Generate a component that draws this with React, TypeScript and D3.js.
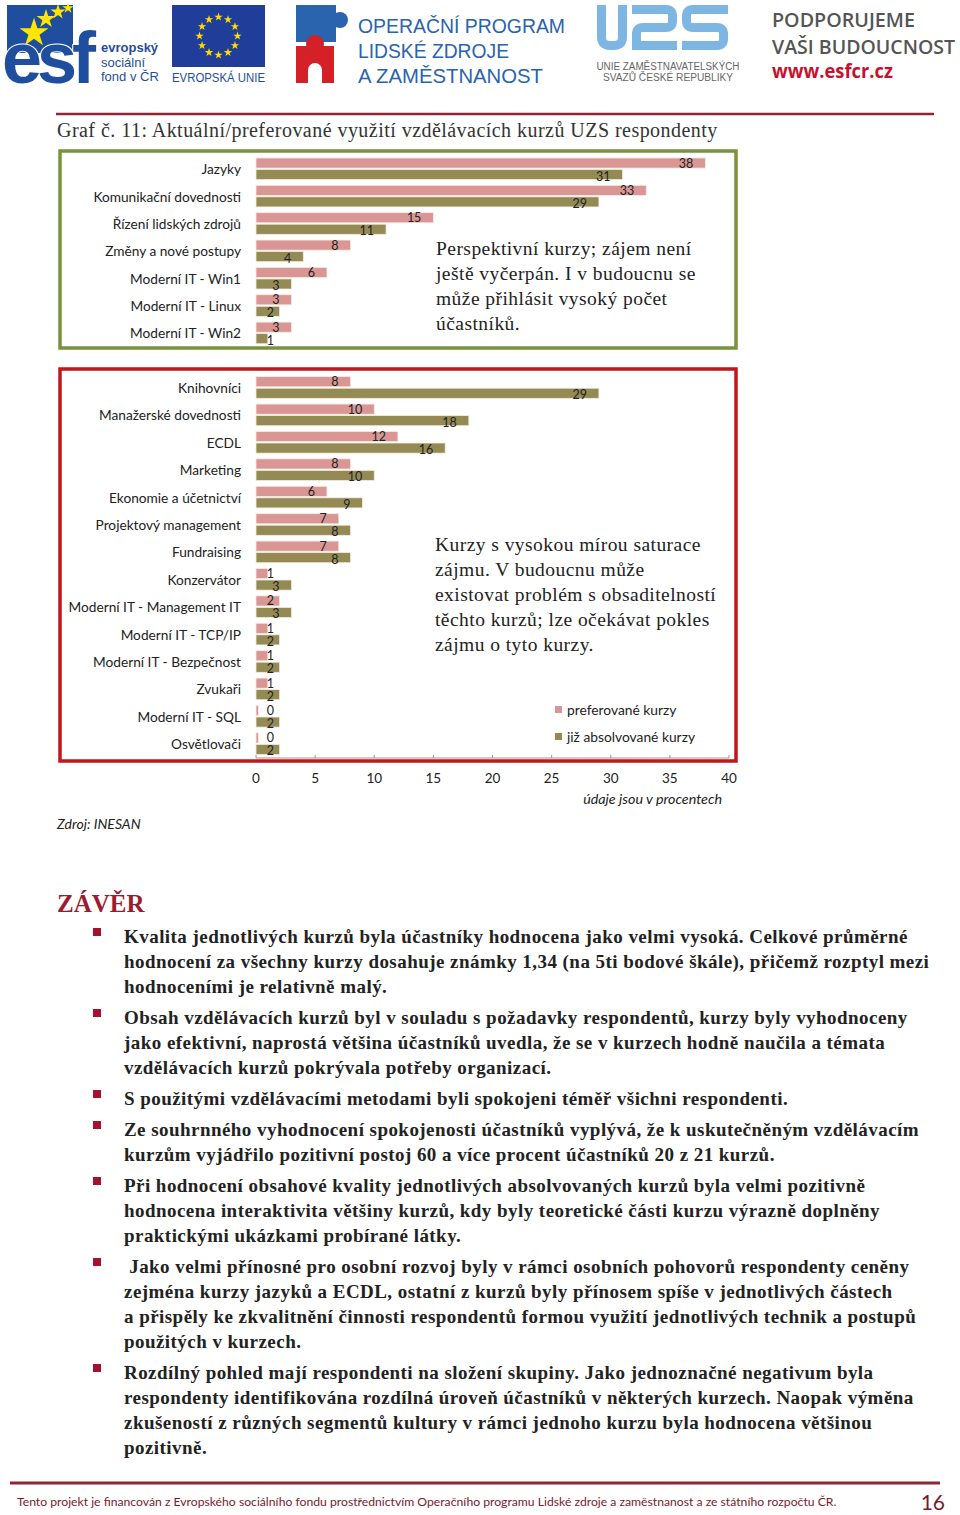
import React from "react";
import * as d3 from "d3";

const topCats = [
  "Jazyky",
  "Komunikační dovednosti",
  "Řízení lidských zdrojů",
  "Změny a nové postupy",
  "Moderní IT - Win1",
  "Moderní IT - Linux",
  "Moderní IT - Win2",
];
const topPreferred = [38, 33, 15, 8, 6, 3, 3];
const topCompleted = [31, 29, 11, 4, 3, 2, 1];

const bottomCats = [
  "Knihovníci",
  "Manažerské dovednosti",
  "ECDL",
  "Marketing",
  "Ekonomie a účetnictví",
  "Projektový management",
  "Fundraising",
  "Konzervátor",
  "Moderní IT - Management IT",
  "Moderní IT - TCP/IP",
  "Moderní IT - Bezpečnost",
  "Zvukaři",
  "Moderní IT - SQL",
  "Osvětlovači",
];
const bottomPreferred = [8, 10, 12, 8, 6, 7, 7, 1, 2, 1, 1, 1, 0.2, 0.2];
const bottomCompleted = [29, 18, 16, 10, 9, 8, 8, 3, 3, 2, 2, 2, 2, 2];

const xTicks = [0, 5, 10, 15, 20, 25, 30, 35, 40];
const seriesNames = ["preferované kurzy", "již absolvované kurzy"];

const topNote = [
  "Perspektivní kurzy; zájem není",
  "ještě vyčerpán. I v budoucnu se",
  "může přihlásit vysoký počet",
  "účastníků.",
];
const bottomNote = [
  "Kurzy s vysokou mírou saturace",
  "zájmu. V budoucnu může",
  "existovat problém s obsaditelností",
  "těchto kurzů; lze očekávat pokles",
  "zájmu o tyto kurzy.",
];

const paragraphs = [
  [
    "Kvalita jednotlivých kurzů byla účastníky hodnocena jako velmi vysoká. Celkové průměrné",
    "hodnocení za všechny kurzy dosahuje známky 1,34 (na 5ti bodové škále), přičemž rozptyl mezi",
    "hodnoceními je relativně malý.",
  ],
  [
    "Obsah vzdělávacích kurzů byl v souladu s požadavky respondentů, kurzy byly vyhodnoceny",
    "jako efektivní, naprostá většina účastníků uvedla, že se v kurzech hodně naučila a témata",
    "vzdělávacích kurzů pokrývala potřeby organizací.",
  ],
  ["S použitými vzdělávacími metodami byli spokojeni téměř všichni respondenti."],
  [
    "Ze souhrnného vyhodnocení spokojenosti účastníků vyplývá, že k uskutečněným vzdělávacím",
    "kurzům vyjádřilo pozitivní postoj 60 a více procent účastníků 20 z 21 kurzů.",
  ],
  [
    "Při hodnocení obsahové kvality jednotlivých absolvovaných kurzů byla velmi pozitivně",
    "hodnocena interaktivita většiny kurzů, kdy byly teoretické části kurzu výrazně doplněny",
    "praktickými ukázkami probírané látky.",
  ],
  [
    "\u00a0Jako velmi přínosné pro osobní rozvoj byly v rámci osobních pohovorů respondenty ceněny",
    "zejména kurzy jazyků a ECDL, ostatní z kurzů byly přínosem spíše v jednotlivých částech",
    "a přispěly ke zkvalitnění činnosti respondentů formou využití jednotlivých technik a postupů",
    "použitých v kurzech.",
  ],
  [
    "Rozdílný pohled mají respondenti na složení skupiny. Jako jednoznačné negativum byla",
    "respondenty identifikována rozdílná úroveň účastníků v některých kurzech. Naopak výměna",
    "zkušeností z různých segmentů kultury v rámci jednoho kurzu byla hodnocena většinou",
    "pozitivně.",
  ],
];

const PINK = "#D99694";
const OLIVE = "#948A54";
const DARKRED = "#8E2436";
const SANS = "Lato, 'Liberation Sans', sans-serif";
const SERIF = "'Liberation Serif', 'DejaVu Serif', serif";

const x = d3.scaleLinear().domain([0, 40]).range([256, 729]);
const fmt = d3.format(".0f");

function Panel({ cats, pref, comp, range }: { cats: string[]; pref: number[]; comp: number[]; range: [number, number] }) {
  const y = d3.scaleBand<string>().domain(cats).range(range).paddingInner(0.21).paddingOuter(0.105);
  const bw = y.bandwidth();
  const h = bw / 2 - 0.7;
  return (
    <g>
      {cats.map((c, i) => {
        const y0 = y(c)!;
        const y1 = y0 + bw / 2 + 0.7;
        return (
          <g key={c}>
            <text x={241} y={y0 + bw / 2} textAnchor="end" dominantBaseline="central" fontFamily={SANS} fontSize={13.7} fill="#222">
              {c}
            </text>
            <rect x={x(0)} y={y0} width={x(pref[i]) - x(0)} height={h} fill={PINK} stroke="#f3ebe0" strokeWidth={0.8} />
            <rect x={x(0)} y={y1} width={x(comp[i]) - x(0)} height={h} fill={OLIVE} stroke="#f3ebe0" strokeWidth={0.8} />
            <text x={Math.max(x(pref[i]) - 12, 274)} y={y0 + h / 2} textAnchor="end" dominantBaseline="central" fontFamily={SANS} fontSize={12.5} fill="#222">
              {fmt(pref[i])}
            </text>
            <text x={Math.max(x(comp[i]) - 12, 274)} y={y1 + h / 2 + 1.5} textAnchor="end" dominantBaseline="central" fontFamily={SANS} fontSize={12.5} fill="#222">
              {fmt(comp[i])}
            </text>
          </g>
        );
      })}
    </g>
  );
}

function star(cx: number, cy: number, size: number, fill: string, key: string) {
  const p = d3.symbol(d3.symbolStar, size)();
  return <path key={key} d={p || ""} transform={`translate(${cx},${cy})`} fill={fill} />;
}

const LOGO_SANS = "'Liberation Sans', Arial, sans-serif";

function Header() {
  const euStars = d3.range(12).map((i) => {
    const a = (i / 12) * Math.PI * 2;
    return star(218.5 + 19 * Math.sin(a), 36 - 19 * Math.cos(a), 22, "#FFDD00", "eu" + i);
  });
  return (
    <g>
      {/* ESF */}
      <rect x={7} y={5} width={66} height={48} fill="#1F4E9E" />
      {star(34, 33, 260, "#FFE600", "s1")}
      {star(46, 19, 110, "#FFE600", "s2")}
      {star(58, 12, 70, "#FFE600", "s3")}
      {star(68, 8, 40, "#FFE600", "s4")}
      <text x={2} y={83} fontFamily={LOGO_SANS} fontWeight="bold" fontSize={72} fill="#1F4E9E" stroke="#fff" strokeWidth={2} paintOrder="stroke" letterSpacing={-5}>
        esf
      </text>
      <text x={101} y={52} fontFamily={LOGO_SANS} fontWeight="bold" fontSize={13} fill="#1F4E9E">evropský</text>
      <text x={101} y={67} fontFamily={LOGO_SANS} fontSize={13} fill="#1F4E9E">sociální</text>
      <text x={101} y={81} fontFamily={LOGO_SANS} fontSize={13} fill="#1F4E9E">fond v ČR</text>
      {/* EU */}
      <rect x={172} y={5} width={93} height={62} fill="#1F3D99" />
      {euStars}
      <text x={172} y={82} fontFamily={LOGO_SANS} fontSize={12} fill="#1F4E9E" textLength={93} lengthAdjust="spacingAndGlyphs">EVROPSKÁ UNIE</text>
      {/* OP LZZ */}
      <rect x={296} y={5} width={40} height={37} fill="#2A63AE" />
      <circle cx={340} cy={20} r={8} fill="#2A63AE" />
      <rect x={296} y={46} width={38} height={37} fill="#D42027" />
      <circle cx={315} cy={44} r={9} fill="#D42027" />
      <circle cx={315} cy={70} r={7} fill="#fff" />
      <rect x={308} y={70} width={14} height={13} fill="#fff" />
      <text x={358} y={33} fontFamily={LOGO_SANS} fontSize={21} fill="#2A63AE" textLength={207} lengthAdjust="spacingAndGlyphs">OPERAČNÍ PROGRAM</text>
      <text x={358} y={58} fontFamily={LOGO_SANS} fontSize={21} fill="#2A63AE" textLength={151} lengthAdjust="spacingAndGlyphs">LIDSKÉ ZDROJE</text>
      <text x={358} y={83} fontFamily={LOGO_SANS} fontSize={21} fill="#2A63AE" textLength={185} lengthAdjust="spacingAndGlyphs">A ZAMĚSTNANOST</text>
      {/* UZS */}
      <g fill="none" stroke="#7DB6E2" strokeWidth={9}>
        <path d="M601.5,5 V37 Q601.5,45.5 610,45.5 H614 Q622.5,45.5 622.5,37 V5" />
        <path d="M632,9.5 H666 Q672.5,9.5 672.5,16 V21 Q672.5,27.5 666,27.5 H643 Q636.5,27.5 636.5,34 V45.5 H677" />
        <path d="M728,9.5 H693 Q686.5,9.5 686.5,16 V21 Q686.5,27.5 693,27.5 H717 Q723.5,27.5 723.5,34 V39 Q723.5,45.5 717,45.5 H682" />
      </g>
      <text x={668} y={70} textAnchor="middle" fontFamily={LOGO_SANS} fontSize={10} fill="#666" textLength={143} lengthAdjust="spacingAndGlyphs">UNIE ZAMĚSTNAVATELSKÝCH</text>
      <text x={668} y={81} textAnchor="middle" fontFamily={LOGO_SANS} fontSize={10} fill="#666" textLength={130} lengthAdjust="spacingAndGlyphs">SVAZŮ ČESKÉ REPUBLIKY</text>
      {/* Podporujeme */}
      <text x={772} y={27} fontFamily="'Open Sans', sans-serif" fontWeight={600} fontSize={19} fill="#555" textLength={143} lengthAdjust="spacingAndGlyphs">PODPORUJEME</text>
      <text x={772} y={54} fontFamily="'Open Sans', sans-serif" fontWeight={600} fontSize={19} fill="#555" textLength={183} lengthAdjust="spacingAndGlyphs">VAŠI BUDOUCNOST</text>
      <text x={772} y={78} fontFamily="'Open Sans', sans-serif" fontWeight={700} fontSize={19} fill="#C8102E" textLength={121} lengthAdjust="spacingAndGlyphs">www.esfcr.cz</text>
    </g>
  );
}

export default function App() {
  let lineY = 937;
  const body: React.ReactNode[] = [];
  paragraphs.forEach((p, pi) => {
    body.push(<rect key={"b" + pi} x={93} y={lineY - 9} width={8} height={8} fill="#A3122E" />);
    p.forEach((line, li) => {
      body.push(
        <text key={`t${pi}-${li}`} x={124} y={lineY + 6} fontFamily={SERIF} fontWeight="bold" fontSize={19} letterSpacing={0.45} fill="#222" style={{ whiteSpace: "pre" }}>
          {line}
        </text>
      );
      lineY += 25;
    });
    lineY += 6;
  });

  return (
    <svg width={960} height={1515} style={{ position: "absolute", left: 0, top: 0, background: "#fff" }}>
      <rect width={960} height={1515} fill="#fff" />
      <Header />
      <line x1={56} x2={934} y1={114} y2={114} stroke={DARKRED} strokeWidth={2.5} />
      <text x={57} y={137} fontFamily={SERIF} fontSize={20} letterSpacing={0.46} fill="#333">
        Graf č. 11: Aktuální/preferované využití vzdělávacích kurzů UZS respondenty
      </text>

      {/* top panel */}
      <rect x={60} y={151} width={676} height={197} fill="#fff" stroke="#77933C" strokeWidth={3.5} />
      <Panel cats={topCats} pref={topPreferred} comp={topCompleted} range={[155.1, 346.6]} />
      {topNote.map((t, i) => (
        <text key={t} x={436} y={255 + i * 25} fontFamily={SERIF} fontSize={19.5} letterSpacing={0.45} fill="#222">{t}</text>
      ))}

      {/* bottom panel */}
      <rect x={60} y={369} width={676} height={392} fill="#fff" stroke="#C0161C" strokeWidth={3.5} />
      <Panel cats={bottomCats} pref={bottomPreferred} comp={bottomCompleted} range={[373.8, 757.4]} />
      {bottomNote.map((t, i) => (
        <text key={t} x={435} y={551 + i * 25} fontFamily={SERIF} fontSize={19.5} letterSpacing={0.45} fill="#222">{t}</text>
      ))}
      <rect x={555} y={706} width={7} height={7} fill={PINK} />
      <text x={567} y={709.5} dominantBaseline="central" fontFamily={SANS} fontSize={13.8} fill="#222">{seriesNames[0]}</text>
      <rect x={555} y={733} width={7} height={7} fill={OLIVE} />
      <text x={567} y={736.5} dominantBaseline="central" fontFamily={SANS} fontSize={13.8} fill="#222">{seriesNames[1]}</text>

      {/* axis */}
      <line x1={x(0)} x2={x(40)} y1={758} y2={758} stroke="#999" strokeWidth={1} />
      {xTicks.map((t) => (
        <g key={t}>
          <line x1={x(t)} x2={x(t)} y1={755} y2={758} stroke="#999" />
          <text x={x(t)} y={778} textAnchor="middle" dominantBaseline="central" fontFamily={SANS} fontSize={13.5} fill="#222">{t}</text>
        </g>
      ))}
      <text x={722} y={798} textAnchor="end" dominantBaseline="central" fontFamily={SANS} fontStyle="italic" fontSize={14.3} fill="#222">
        údaje jsou v procentech
      </text>
      <text x={57} y={823} dominantBaseline="central" fontFamily={SANS} fontStyle="italic" fontSize={14} fill="#222">
        Zdroj: INESAN
      </text>

      {/* conclusion */}
      <text x={57} y={912} fontFamily={SERIF} fontWeight="bold" fontSize={25} fill="#9B1C31">ZÁVĚR</text>
      {body}

      {/* footer */}
      <line x1={10} x2={940} y1={1483} y2={1483} stroke={DARKRED} strokeWidth={3} />
      <text x={17} y={1501} dominantBaseline="central" fontFamily={SANS} fontSize={12.2} fill="#7A1A2A">
        Tento projekt je financován z Evropského sociálního fondu prostřednictvím Operačního programu Lidské zdroje a zaměstnanost a ze státního rozpočtu ČR.
      </text>
      <text x={945} y={1501} textAnchor="end" dominantBaseline="central" fontFamily={SANS} fontSize={21} fill="#7A1A2A">16</text>
    </svg>
  );
}
